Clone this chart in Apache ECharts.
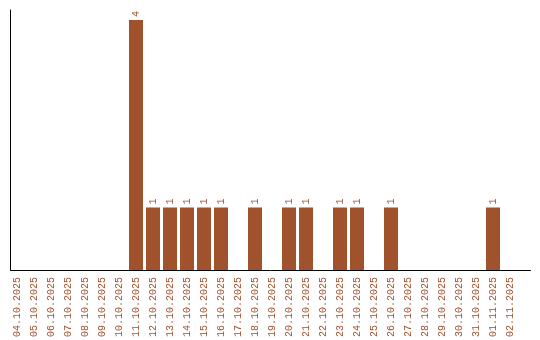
<!DOCTYPE html>
<html>
<head>
<meta charset="utf-8">
<script src="https://cdn.jsdelivr.net/npm/echarts@6/dist/echarts.min.js"></script>
<style>html,body{margin:0;padding:0;background:#fff}#c{width:540px;height:340px}</style>
</head>
<body>
<div id="c"></div>
<script>
const categories = ["04.10.2025","05.10.2025","06.10.2025","07.10.2025","08.10.2025","09.10.2025","10.10.2025","11.10.2025","12.10.2025","13.10.2025","14.10.2025","15.10.2025","16.10.2025","17.10.2025","18.10.2025","19.10.2025","20.10.2025","21.10.2025","22.10.2025","23.10.2025","24.10.2025","25.10.2025","26.10.2025","27.10.2025","28.10.2025","29.10.2025","30.10.2025","31.10.2025","01.11.2025","02.11.2025"];
const counts = [0,0,0,0,0,0,0,4,1,1,1,1,1,0,1,0,1,1,0,1,1,0,1,0,0,0,0,0,1,0];

const color = '#A0522D';
const font = 'Liberation Mono';
const chart = echarts.init(document.getElementById('c'), null, {renderer:'canvas'});
chart.setOption({
  animation: false,
  backgroundColor: '#fff',
  grid: [
    {left: 8.5, right: 21.5, top: 10, bottom: 70},
    {left: 10.5, right: 9.5, top: 10, bottom: 70}
  ],
  xAxis: [
    {type: 'category', gridIndex: 0, data: categories,
     axisLine: {show: false}, axisTick: {show: false},
     axisLabel: {rotate: 90, interval: 0, margin: 7, color: color, fontFamily: font, fontSize: 10}},
    {type: 'value', gridIndex: 1, min: 0, max: 1,
     axisLine: {show: true, lineStyle: {color: '#000', width: 1}}, axisTick: {show: false},
     axisLabel: {show: false}, splitLine: {show: false}}
  ],
  yAxis: [
    {type: 'value', gridIndex: 0, min: 0, max: 4.16,
     axisLine: {show: false}, axisTick: {show: false}, axisLabel: {show: false}, splitLine: {show: false}},
    {type: 'value', gridIndex: 1, min: 0, max: 1,
     axisLine: {show: true, lineStyle: {color: '#000', width: 1}}, axisTick: {show: false},
     axisLabel: {show: false}, splitLine: {show: false}}
  ],
  series: [{
    type: 'bar', xAxisIndex: 0, yAxisIndex: 0,
    data: counts.map(v => v === 0 ? null : v),
    barWidth: 14,
    itemStyle: {color: color},
    label: {show: true, position: 'top', rotate: 90, align: 'left', verticalAlign: 'middle',
            distance: 3, color: color, fontFamily: font, fontSize: 10}
  }]
});
</script>
</body>
</html>
